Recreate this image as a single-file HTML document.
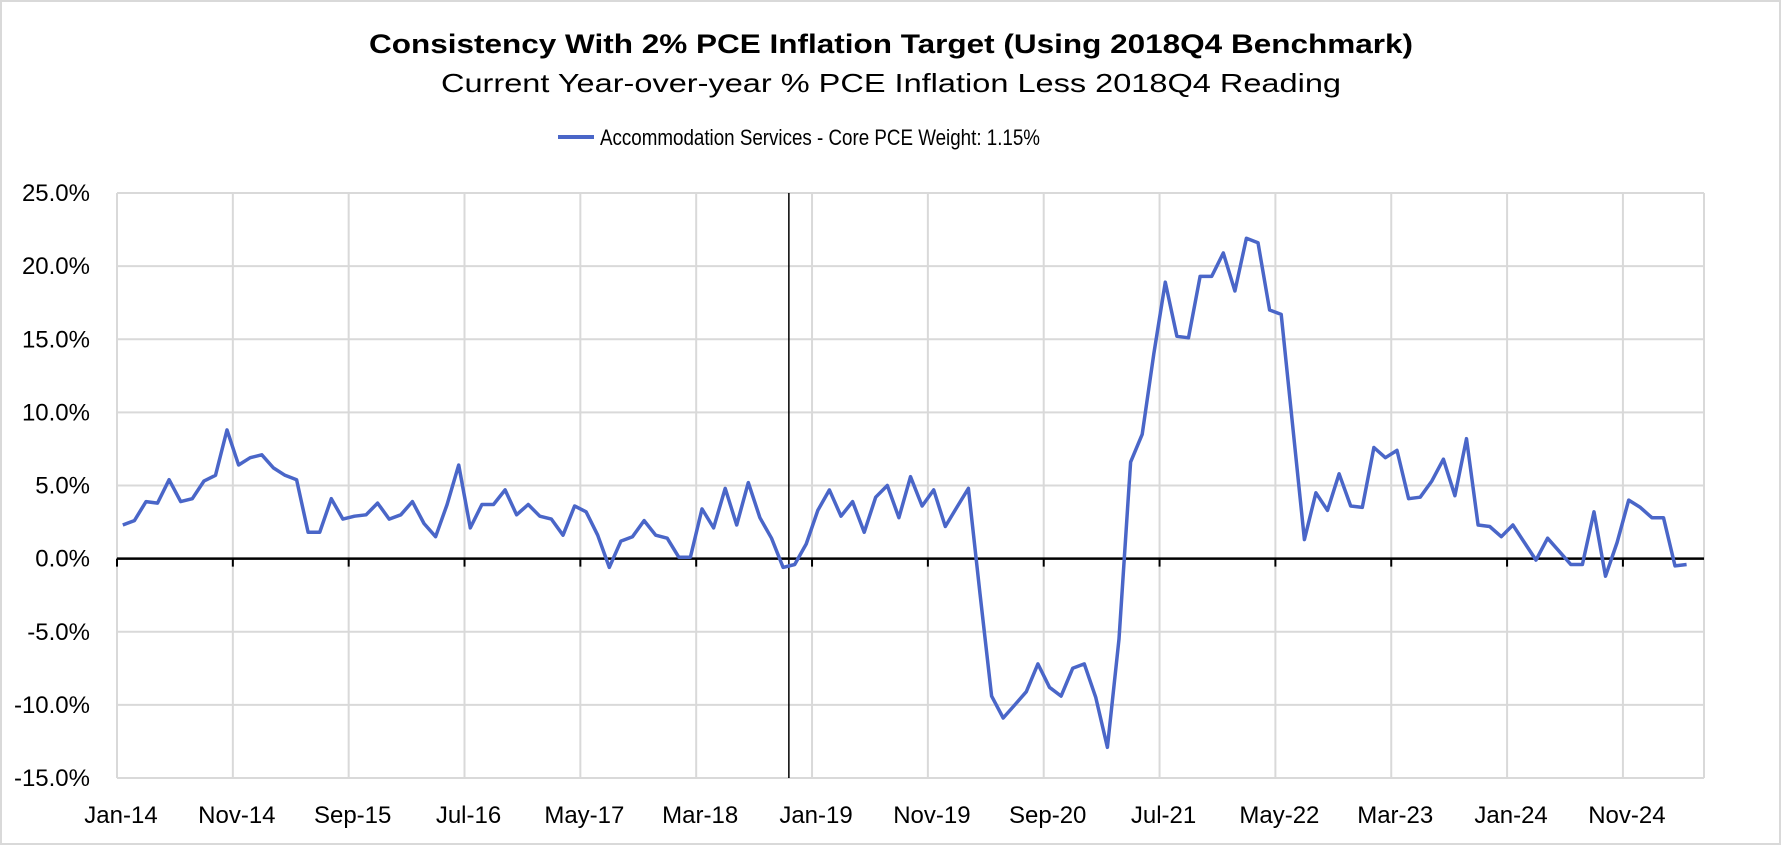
<!DOCTYPE html>
<html><head><meta charset="utf-8"><style>
html,body{margin:0;padding:0;background:#fff}
svg text{font-family:"Liberation Sans",sans-serif;fill:#000}
</style></head><body>
<svg id="chart" width="1782" height="846" viewBox="0 0 1782 846" xmlns="http://www.w3.org/2000/svg">
<rect x="1" y="1" width="1779" height="843" fill="#fff" stroke="#d9d9d9" stroke-width="2"/>
<text x="891" y="53" text-anchor="middle" font-size="27" font-weight="bold" textLength="1044" lengthAdjust="spacingAndGlyphs">Consistency With 2% PCE Inflation Target (Using 2018Q4 Benchmark)</text>
<text x="891" y="92" text-anchor="middle" font-size="26" textLength="900" lengthAdjust="spacingAndGlyphs">Current Year-over-year % PCE Inflation Less 2018Q4 Reading</text>
<g>
<line x1="558" y1="137" x2="594" y2="137" stroke="#4a66c8" stroke-width="4"/>
<text x="600" y="145" font-size="22" textLength="440" lengthAdjust="spacingAndGlyphs">Accommodation Services - Core PCE Weight: 1.15%</text>
</g>
<g id="grid"></g>
<g id="yaxis"></g>
<g id="xaxis"></g>
<g id="series"></g>
</svg>
<script>
const yTicks=[25,20,15,10,5,0,-5,-10,-15];
const yTickLabels=["25.0%","20.0%","15.0%","10.0%","5.0%","0.0%","-5.0%","-10.0%","-15.0%"];
const xTickLabels=["Jan-14","Nov-14","Sep-15","Jul-16","May-17","Mar-18","Jan-19","Nov-19","Sep-20","Jul-21","May-22","Mar-23","Jan-24","Nov-24"];
const values=[
2.3,2.6,3.9,3.8,5.4,3.9,4.1,5.3,5.7,8.8,6.4,6.9,
7.1,6.2,5.7,5.4,1.8,1.8,4.1,2.7,2.9,3.0,3.8,2.7,
3.0,3.9,2.4,1.5,3.7,6.4,2.1,3.7,3.7,4.7,3.0,3.7,
2.9,2.7,1.6,3.6,3.2,1.6,-0.6,1.2,1.5,2.6,1.6,1.4,
0.1,0.1,3.4,2.1,4.8,2.3,5.2,2.8,1.4,-0.6,-0.4,1.0,
3.3,4.7,2.9,3.9,1.8,4.2,5.0,2.8,5.6,3.6,4.7,2.2,
3.5,4.8,-2.4,-9.4,-10.9,-10.0,-9.1,-7.2,-8.8,-9.4,-7.5,-7.2,
-9.5,-12.9,-5.5,6.6,8.5,14.0,18.9,15.2,15.1,19.3,19.3,20.9,
18.3,21.9,21.6,17.0,16.7,9.0,1.3,4.5,3.3,5.8,3.6,3.5,
7.6,6.9,7.4,4.1,4.2,5.3,6.8,4.3,8.2,2.3,2.2,1.5,
2.3,1.1,-0.1,1.4,0.5,-0.4,-0.4,3.2,-1.2,1.1,4.0,3.5,
2.8,2.8,-0.5,-0.4];
const nCats=137, benchmarkIndex=58, tickEvery=10;
const L=117,R=1704,T=193,B=778,yMax=25,yMin=-15;
const NS="http://www.w3.org/2000/svg";
const step=(R-L)/nCats;
function xPos(i){return L+(i+0.5)*step;}
function xEdge(i){return L+i*step;}
function yPos(v){return T+(yMax-v)/(yMax-yMin)*(B-T);}
function mk(t,a){const e=document.createElementNS(NS,t);for(const k in a)e.setAttribute(k,a[k]);return e;}
const grid=document.getElementById('grid'),ya=document.getElementById('yaxis'),xa=document.getElementById('xaxis'),se=document.getElementById('series');
yTicks.forEach((v,k)=>{
 const g=mk('line',{x1:L,x2:R,y1:yPos(v),y2:yPos(v),stroke:'#d9d9d9','stroke-width':2});
 
 
 grid.appendChild(g);
 const t=mk('text',{x:90,y:yPos(v)+8,'text-anchor':'end','font-size':24});
 
 
 t.textContent=yTickLabels[k];ya.appendChild(t);
});
for(let k=0;k<=Math.floor(nCats/tickEvery);k++){
 const x=xEdge(k*tickEvery);
 const g=mk('line',{x1:x,x2:x,y1:T,y2:B,stroke:'#d9d9d9','stroke-width':2});
 
 
 grid.appendChild(g);
 const tk=mk('line',{x1:x,x2:x,y1:yPos(0),y2:yPos(0)+8,stroke:'#000','stroke-width':2});
 
 
 xa.appendChild(tk);
 if(xTickLabels[k]){
 const t=mk('text',{x:x+4,y:823,'text-anchor':'middle','font-size':24});
 
 
 t.textContent=xTickLabels[k];xa.appendChild(t);}
}
const gr=mk('line',{x1:R,x2:R,y1:T,y2:B,stroke:'#d9d9d9','stroke-width':2});


grid.appendChild(gr);
const z=mk('line',{x1:L,x2:R,y1:yPos(0),y2:yPos(0),stroke:'#000','stroke-width':2.5});


xa.appendChild(z);
const bl=mk('line',{x1:xEdge(benchmarkIndex),x2:xEdge(benchmarkIndex),y1:T,y2:B,stroke:'#000','stroke-width':1.5});


xa.appendChild(bl);
const pts=values.map((v,i)=>xPos(i).toFixed(1)+','+yPos(v).toFixed(1)).join(' ');
const pl=mk('polyline',{points:pts,fill:'none',stroke:'#4a66c8','stroke-width':3.5,'stroke-linejoin':'round'});


se.appendChild(pl);
</script>
</body></html>
